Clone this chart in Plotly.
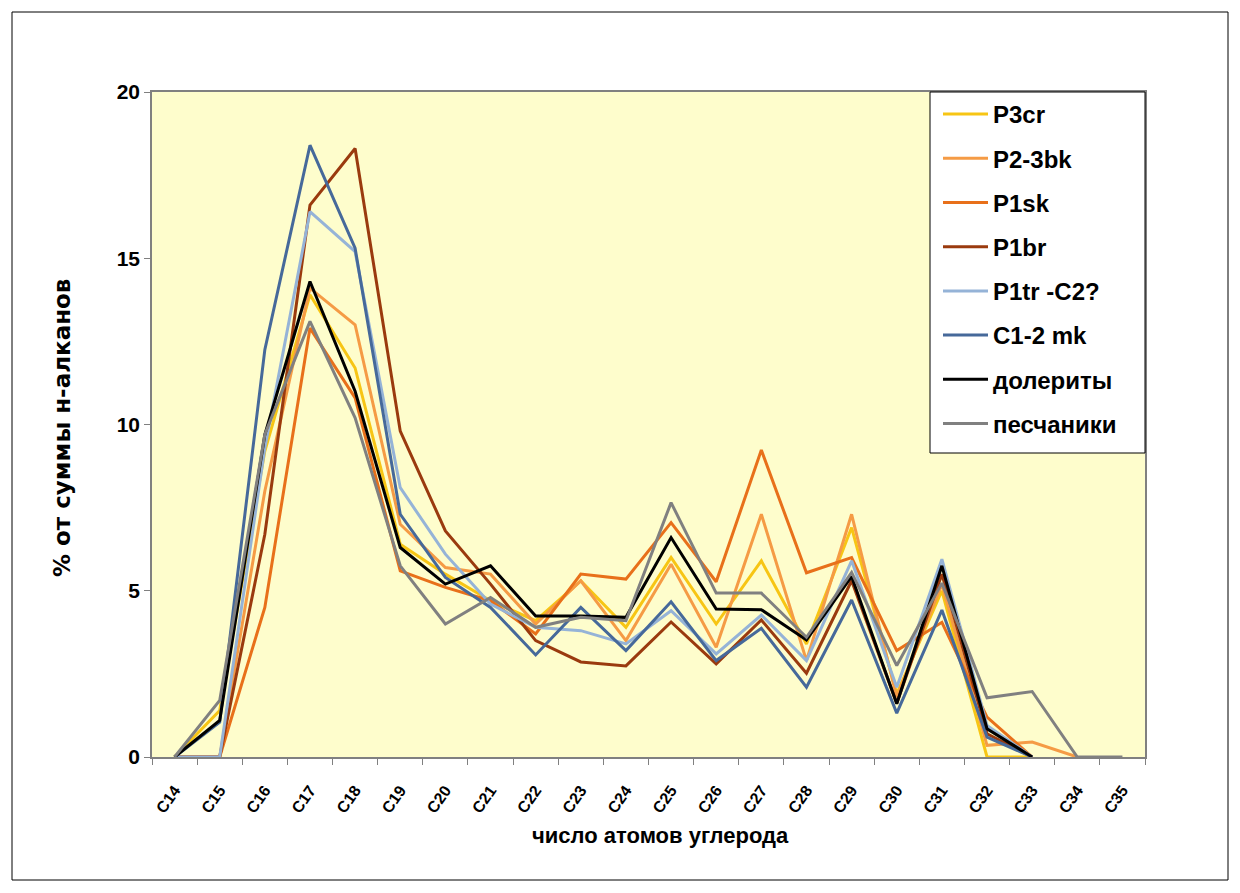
import plotly.graph_objects as go

# Carbon number categories
carbons = ["C14", "C15", "C16", "C17", "C18", "C19", "C20", "C21", "C22", "C23", "C24",
           "C25", "C26", "C27", "C28", "C29", "C30", "C31", "C32", "C33", "C34", "C35"]

# Share of each n-alkane in the total (%), per sample group
p3cr = [0, 1.4, 9.2, 13.9, 11.7, 6.4, 5.5, 4.7, 4.1, 5.3, 3.9, 6.0, 4.0, 5.9, 3.4, 6.9, 1.9, 5.0, 0, 0, None, None]
p23bk = [0, 0, 8.0, 14.1, 13.0, 7.0, 5.7, 5.5, 4.0, 5.3, 3.5, 5.8, 3.3, 7.3, 2.9, 7.3, 1.8, 5.2, 0.35, 0.45, 0, None]
p1sk = [0, 0, 4.5, 12.9, 10.8, 5.6, 5.1, 4.7, 3.7, 5.5, 5.35, 7.05, 5.27, 9.23, 5.54, 6.0, 3.2, 4.05, 1.2, 0, None, None]
p1br = [0, 0, 6.7, 16.6, 18.3, 9.8, 6.8, 5.2, 3.5, 2.86, 2.74, 4.06, 2.8, 4.12, 2.52, 5.3, 1.62, 5.5, 0.7, 0, None, None]
p1tr = [0, 0, 9.3, 16.4, 15.2, 8.1, 6.1, 4.6, 3.9, 3.8, 3.4, 4.4, 3.1, 4.27, 2.9, 5.9, 2.1, 5.95, 0.95, 0, None, None]
c12mk = [0, 1.05, 12.25, 18.4, 15.3, 7.3, 5.4, 4.5, 3.07, 4.5, 3.2, 4.67, 2.9, 3.87, 2.1, 4.72, 1.32, 4.42, 0.6, 0, None, None]
dolerites = [0, 1.1, 9.7, 14.3, 11.0, 6.3, 5.2, 5.75, 4.24, 4.24, 4.2, 6.6, 4.45, 4.43, 3.52, 5.43, 1.6, 5.75, 0.85, 0, None, None]
sandstones = [0, 1.7, 9.7, 13.1, 10.2, 5.75, 4.0, 4.8, 3.9, 4.2, 4.1, 7.65, 4.93, 4.93, 3.6, 5.55, 2.75, 5.23, 1.78, 1.97, 0, 0]

series_names = ["P3cr", "P2-3bk", "P1sk", "P1br", "P1tr -C2?", "C1-2 mk", "долериты", "песчаники"]
series_values = [p3cr, p23bk, p1sk, p1br, p1tr, c12mk, dolerites, sandstones]
series_colors = ["#F7C514", "#F59B45", "#E8701A", "#9A3A0E", "#95B3D7", "#46699A", "#000000", "#808080"]

x_title = "число атомов углерода"
y_title = "% от суммы н-алканов"

FONT = "Liberation Sans, Arial, sans-serif"
WIDE = "DejaVu Sans, Liberation Sans, sans-serif"

fig = go.Figure()
for name, vals, col in zip(series_names, series_values, series_colors):
    fig.add_trace(go.Scatter(
        x=carbons, y=vals, name=name, mode="lines",
        line=dict(color=col, width=3), legendgroup=name,
        connectgaps=False,
    ))

# plot area geometry (px)
L, R, T, B = 152, 1145, 92, 757
W, H = 1240, 893
pw, ph = R - L, B - T

def px_x(x):
    return (x - L) / pw

def px_y(y):
    return (B - y) / ph

fig.update_layout(
    width=W, height=H,
    margin=dict(l=L, r=W - R, t=T, b=H - B),
    paper_bgcolor="white",
    plot_bgcolor="#FEFDCC",
    font=dict(family=FONT, color="black"),
    showlegend=True,
    legend=dict(
        x=px_x(938), y=px_y(92), xanchor="left", yanchor="top",
        bgcolor="rgba(0,0,0,0)", borderwidth=0,
        font=dict(family=FONT, size=24, color="black", weight="bold"),
        tracegroupgap=10, itemwidth=45,
    ),
    xaxis=dict(
        type="category", categoryorder="array", categoryarray=carbons,
        range=[-0.5, 21.5],
        showgrid=False, zeroline=False,
        showline=True, linecolor="#808080", linewidth=1.5, mirror=True,
        ticks="outside", ticklen=6, tickcolor="#808080", tickson="boundaries",
        tickangle=-55, ticklabelstandoff=16,
        tickfont=dict(family=FONT, size=16, color="black", weight="bold"),
    ),
    yaxis=dict(
        range=[0, 20], dtick=5, tick0=0,
        showgrid=False, zeroline=False,
        showline=True, linecolor="#808080", linewidth=1.5, mirror=True,
        ticks="outside", ticklen=6, tickcolor="#808080",
        tickfont=dict(family=FONT, size=21, color="black", weight="bold"),
    ),
    annotations=[
        dict(text=x_title, xref="paper", yref="paper", x=px_x(660), y=px_y(835),
             xanchor="center", yanchor="middle", showarrow=False,
             font=dict(family=FONT, size=22, color="black", weight="bold")),
        dict(text=y_title, xref="paper", yref="paper", x=px_x(62), y=px_y(428),
             xanchor="center", yanchor="middle", showarrow=False, textangle=-90,
             font=dict(family=WIDE, size=23, color="black", weight="bold")),
    ],
    shapes=[
        # outer chart frame
        dict(type="rect", xref="paper", yref="paper",
             x0=px_x(12), x1=px_x(1228), y0=px_y(880), y1=px_y(12),
             line=dict(color="black", width=1), fillcolor="rgba(0,0,0,0)", layer="below"),
        # legend box
        dict(type="rect", xref="paper", yref="paper",
             x0=px_x(930), x1=px_x(1145), y0=px_y(453), y1=px_y(92),
             line=dict(color="black", width=1), fillcolor="white", layer="above"),
    ],
)

fig.write_html("out.html")
